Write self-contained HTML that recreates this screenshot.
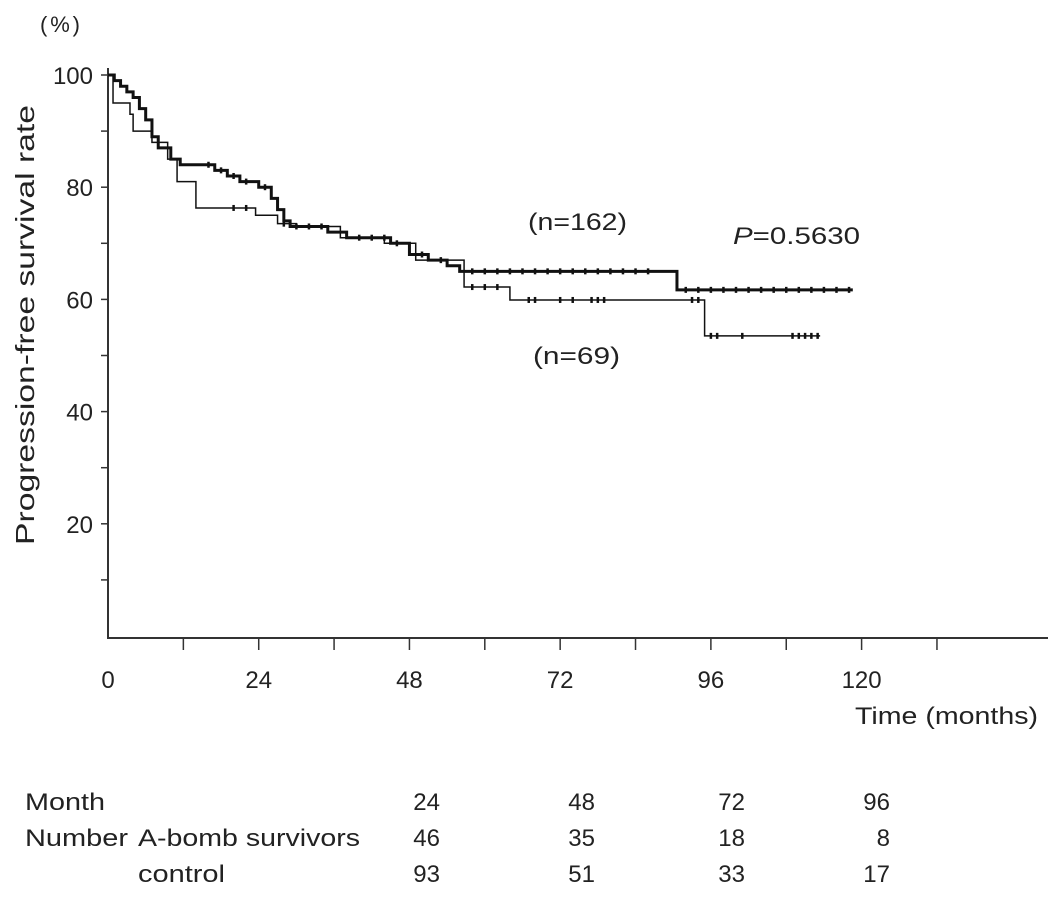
<!DOCTYPE html>
<html><head><meta charset="utf-8"><style>
body{margin:0;background:#fff}
svg text{font-family:"Liberation Sans",Arial,sans-serif;fill:#222}
</style></head><body>
<svg id="c" width="1063" height="909" xmlns="http://www.w3.org/2000/svg">
<text x="40" y="32" font-size="22" textLength="40">(%)</text>
<text transform="translate(34,325) rotate(-90)" text-anchor="middle" font-size="26" textLength="440" lengthAdjust="spacingAndGlyphs">Progression-free survival rate</text>
<text x="855" y="724" font-size="24" textLength="183" lengthAdjust="spacingAndGlyphs">Time (months)</text>
<text x="528" y="230" font-size="24" textLength="99" lengthAdjust="spacingAndGlyphs">(n=162)</text>
<text x="533" y="364" font-size="24" textLength="87" lengthAdjust="spacingAndGlyphs">(n=69)</text>
<text x="733" y="244" font-size="24" textLength="127" lengthAdjust="spacingAndGlyphs"><tspan font-style="italic">P</tspan>=0.5630</text>
<g id="axes"></g><g id="series"></g>
<g font-size="24">
<text x="25" y="810" textLength="80" lengthAdjust="spacingAndGlyphs">Month</text>
<text x="25" y="846" textLength="103" lengthAdjust="spacingAndGlyphs">Number</text>
<text x="138" y="846" textLength="222" lengthAdjust="spacingAndGlyphs">A-bomb survivors</text>
<text x="138" y="882" textLength="87" lengthAdjust="spacingAndGlyphs">control</text>
<g id="tbl"></g>
</g>
</svg>
<script>
const NS="http://www.w3.org/2000/svg";
const thickT=[0,1,2,3,4,5,6,7,8,10,11.5,17,19,21,24,26,27,28,29,35,38,45,48,51,54,56,90.6];
const thickV=[100,99,98,97,96,94,92,89,87,85,84,83,82,81,80,78,76,74,73,72,71,70,68,67,66,65,61.7];
const thickEnd=118.6;
const thickCens=[16,18,20,22,25,30,32,34,40,42,44,50,53,58,60,62,64,66,68,70,72,74,76,78,80,82,84,86,92,94,96,98,100,102,104,106,108,110,112,114,116,118];
const thinT=[0,0.8,3.5,4,7,9.5,11,14,23.5,27,30,37,44,49,56.7,64,95];
const thinV=[100,95,93,90,88,85,81,76.3,75,73.5,73,71,70,67,62.2,59.9,53.5];
const thinEnd=113.4;
const thinCens=[20,22,28,46,58,60,62,67,68,72,74,77,78,79,93,94,96,97,101,109,110,111,112,113];
const xTicks=[0,24,48,72,96,120];
const yTicks=[20,40,60,80,100];
const months=[24,48,72,96];
const abomb=[46,35,18,8];
const control=[93,51,33,17];
const X=m=>108+m*6.28, Y=v=>636-v*5.61;
function el(t,a,p){const e=document.createElementNS(NS,t);for(const k in a)e.setAttribute(k,a[k]);document.getElementById(p).appendChild(e);return e;}
let e;
e=el('line',{x1:108,y1:68,x2:108,y2:638,stroke:'#333','stroke-width':2},'axes');


e=el('line',{x1:107,y1:638,x2:1048,y2:638,stroke:'#333','stroke-width':2},'axes');


for(let m=12;m<=132;m+=12){e=el('line',{x1:X(m),y1:638,x2:X(m),y2:650,stroke:'#333','stroke-width':1.5},'axes');

}
xTicks.forEach(m=>{e=el('text',{x:X(m),y:688,'text-anchor':'middle','font-size':24},'axes');e.textContent=m;

});
for(let v=10;v<=100;v+=10){e=el('line',{x1:101,y1:Y(v),x2:108,y2:Y(v),stroke:'#333','stroke-width':1.5},'axes');

}
yTicks.forEach(v=>{e=el('text',{x:93,y:Y(v)+9,'text-anchor':'end','font-size':24},'axes');e.textContent=v;

});
function valAt(T,V,m){let v=V[0];for(let i=0;i<T.length;i++)if(T[i]<=m)v=V[i];return v;}
function curve(T,V,end,C,w,name){
 let d='M'+X(T[0])+','+Y(V[0]);
 for(let i=1;i<T.length;i++)d+='H'+X(T[i])+'V'+Y(V[i]);
 d+='H'+X(end);
 e=el('path',{d:d,fill:'none',stroke:'#111','stroke-width':w},'series');
 
 
 C.forEach(m=>{const y=Y(valAt(T,V,m));e=el('line',{x1:X(m),y1:y-3,x2:X(m),y2:y+3,stroke:'#111','stroke-width':2.5},'series');
 
 });
}
curve(thinT,thinV,thinEnd,thinCens,1.5,'control');
curve(thickT,thickV,thickEnd,thickCens,3,'abomb');
const colX=[440,595,745,890];
months.forEach((m,i)=>{e=el('text',{x:colX[i],y:810,'text-anchor':'end','font-size':24},'tbl');e.textContent=m;


e=el('text',{x:colX[i],y:846,'text-anchor':'end','font-size':24},'tbl');e.textContent=abomb[i];


e=el('text',{x:colX[i],y:882,'text-anchor':'end','font-size':24},'tbl');e.textContent=control[i];

});
</script>
</body></html>
